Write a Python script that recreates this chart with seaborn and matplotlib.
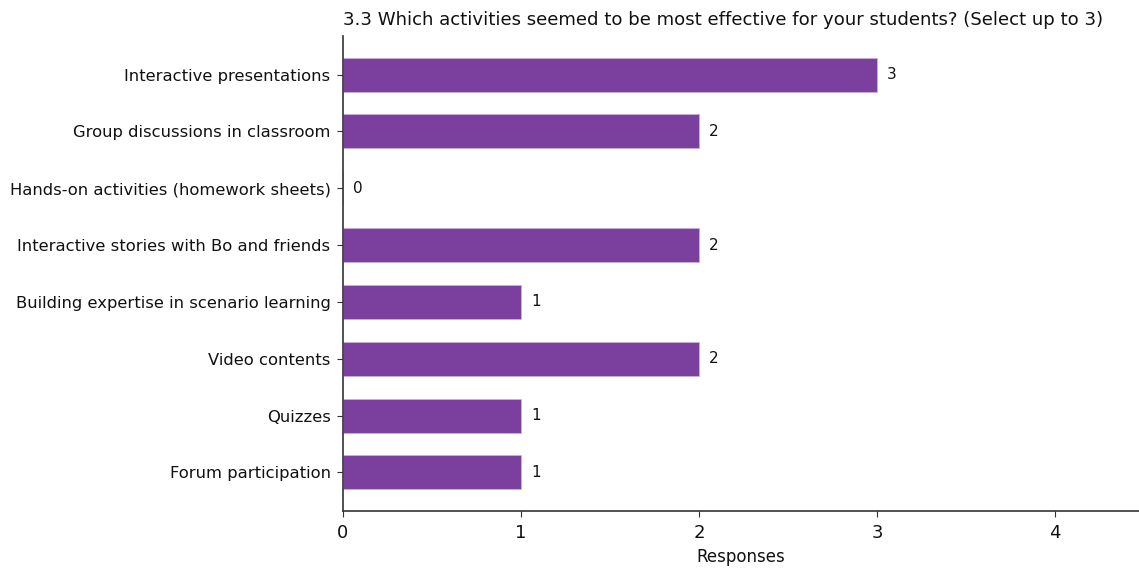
import matplotlib
matplotlib.use("Agg")
import matplotlib.pyplot as plt
import seaborn as sns
import pandas as pd

categories = [
    "Interactive presentations",
    "Group discussions in classroom",
    "Hands-on activities (homework sheets)",
    "Interactive stories with Bo and friends",
    "Building expertise in scenario learning",
    "Video contents",
    "Quizzes",
    "Forum participation",
]
responses = [3, 2, 0, 2, 1, 2, 1, 1]
title = "3.3 Which activities seemed to be most effective for your students? (Select up to 3)"

sns.set_style("white")
plt.rcParams['font.family'] = ['DejaVu Sans']
plt.rcParams['text.color'] = '#111111'
plt.rcParams['axes.labelcolor'] = '#111111'
plt.rcParams['xtick.color'] = '#111111'
plt.rcParams['ytick.color'] = '#111111'

df = pd.DataFrame({"Activity": categories, "Responses": responses})

fig = plt.figure(figsize=(11.39, 5.68), dpi=100)
ax = fig.add_axes([343/1139, 1 - 511/568, (1139 - 343)/1139, (511 - 36)/568])

sns.barplot(data=df, y="Activity", x="Responses", color="#7B3F9E", saturation=1,
            width=0.6, edgecolor="#c9b0d8", linewidth=0.6, ax=ax, orient="h")

for i, v in enumerate(responses):
    ax.text(v + 0.055, i, str(v), va="center", ha="left", fontsize=11, color="#111111")

ax.set_xlim(0, 4.47)
ax.set_ylim(7.68, -0.68)
ax.set_xticks([0, 1, 2, 3, 4])
ax.tick_params(axis="x", labelsize=13, length=4, pad=5, color="#333333")
ax.tick_params(axis="y", labelsize=11.8, length=4, pad=5, color="#333333")
ax.set_ylabel("")
ax.set_xlabel("Responses", fontsize=12, labelpad=5)
ax.set_title(title, loc="left", fontsize=13.1, pad=8)
for s in ["top", "right"]:
    ax.spines[s].set_visible(False)
for s in ["left", "bottom"]:
    ax.spines[s].set_color("#333333")
    ax.spines[s].set_linewidth(1.2)
ax.tick_params(axis="both", which="both", bottom=True, left=True)

fig.savefig("out.png", dpi=100)
